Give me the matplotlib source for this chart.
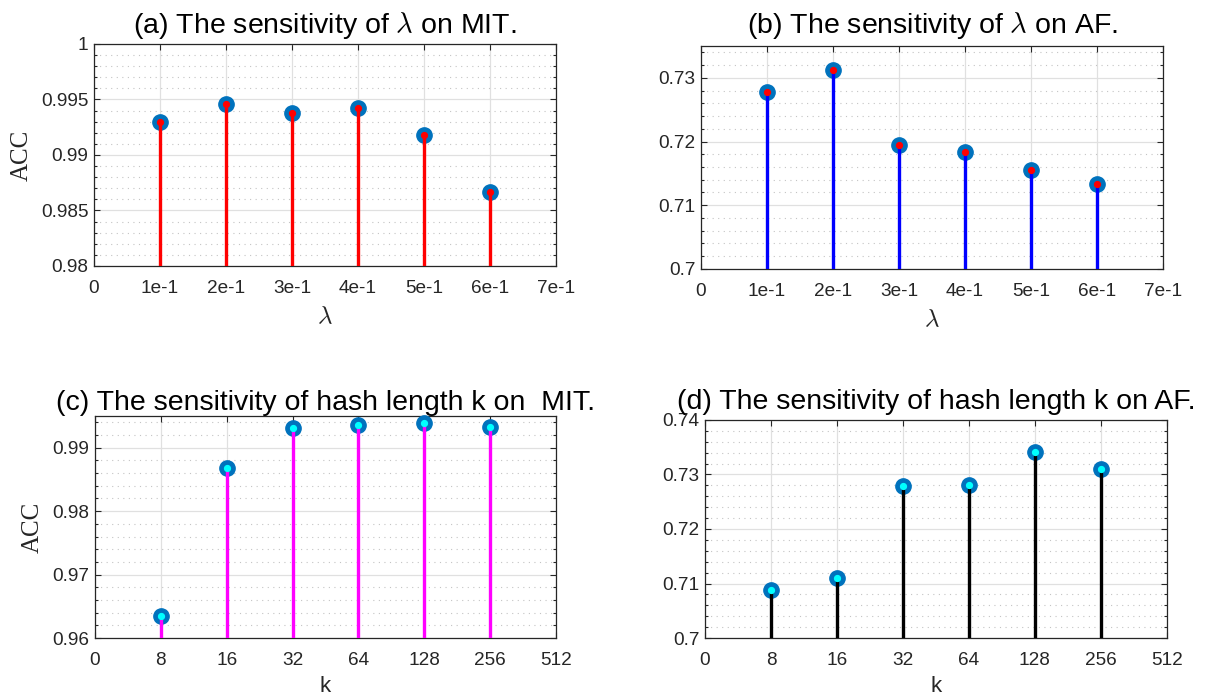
import numpy as np
import matplotlib
matplotlib.use("Agg")
import matplotlib.pyplot as plt
from matplotlib.ticker import MultipleLocator, FuncFormatter

plt.rcParams["font.family"] = ["Liberation Sans", "DejaVu Sans"]
plt.rcParams["mathtext.fontset"] = "cm"

# ---------------- data ----------------
lam_labels = ["0", "1e-1", "2e-1", "3e-1", "4e-1", "5e-1", "6e-1", "7e-1"]
k_labels = ["0", "8", "16", "32", "64", "128", "256", "512"]

acc_lam_mit = [0.9930, 0.9946, 0.9938, 0.9942, 0.9918, 0.9867]
acc_lam_af = [0.7278, 0.7312, 0.7194, 0.7184, 0.7155, 0.7134]
acc_k_mit = [0.9634, 0.9868, 0.9931, 0.9936, 0.9939, 0.9932]
acc_k_af = [0.7089, 0.7110, 0.7278, 0.7281, 0.7341, 0.7310]

MARKER_BLUE = "#0072BD"

fig = plt.figure(figsize=(12.10, 6.95), dpi=100)

panels = [
    # position, values, ylim, major, minor, stem colour, dot colour, title, xlabel, xticks, ylabel, title pad
    ([0.0777, 0.6173, 0.3818, 0.3194], acc_lam_mit, (0.98, 1.0), 0.005, 0.001, "#ff0000", "#ff0000",
     r"(a) The sensitivity of $\lambda$ on MIT.", r"$\lambda$", lam_labels, "ACC", 8),
    ([0.5793, 0.6130, 0.3818, 0.3209], acc_lam_af, (0.70, 0.735), 0.01, 0.002, "#0000ff", "#ff0000",
     r"(b) The sensitivity of $\lambda$ on AF.", r"$\lambda$", lam_labels, None, 9),
    ([0.0785, 0.0820, 0.3810, 0.3194], acc_k_mit, (0.96, 0.995), 0.01, 0.002, "#ff00ff", "#00ffff",
     "(c) The sensitivity of hash length k on  MIT.", "k", k_labels, "ACC", 3),
    ([0.5826, 0.0820, 0.3818, 0.3137], acc_k_af, (0.70, 0.74), 0.01, 0.002, "#000000", "#00ffff",
     "(d) The sensitivity of hash length k on AF.", "k", k_labels, None, 8),
]

for pos, vals, ylim, major, minor, stem_c, dot_c, title, xlabel, xlabels, ylabel, tpad in panels:
    ax = fig.add_axes(pos)
    x = np.arange(1, len(vals) + 1)
    base = ylim[0]

    # stems: big blue marker underneath, coloured stem and small dot on top
    ax.plot(x, vals, "o", color=MARKER_BLUE, markersize=11, zorder=3, clip_on=False)
    ax.vlines(x, base, vals, colors=stem_c, linewidth=2.4, zorder=4)
    ax.plot(x, vals, "o", color=dot_c, markersize=4.2, zorder=5)

    ax.set_xlim(0, len(xlabels) - 1)
    ax.set_xticks(np.arange(len(xlabels)))
    ax.set_xticklabels(xlabels)
    ax.set_ylim(*ylim)
    ax.yaxis.set_major_locator(MultipleLocator(major))
    ax.yaxis.set_minor_locator(MultipleLocator(minor))
    ax.yaxis.set_major_formatter(FuncFormatter(lambda v, p: f"{v:.3f}".rstrip("0").rstrip(".")))

    ax.grid(True, which="major", color="#e0e0e0", linewidth=0.9, zorder=0)
    ax.grid(True, which="minor", axis="y", color="#c4c4c4", linestyle=(0, (1, 4)), linewidth=0.8, zorder=0)
    ax.set_axisbelow(True)

    ax.tick_params(which="both", direction="in", top=True, right=True, colors="#262626",
                   labelsize=13.7, width=0.8)
    ax.tick_params(axis="x", pad=10)
    ax.tick_params(axis="y", pad=4)
    ax.tick_params(which="major", length=4)
    ax.tick_params(which="minor", length=2.5)
    for s in ax.spines.values():
        s.set_color("#262626")
        s.set_linewidth(0.9)

    ax.set_title(title, fontsize=20.5, pad=tpad)
    if xlabel == "k":
        ax.set_xlabel(xlabel, fontsize=16, color="#262626", labelpad=5)
    else:
        ax.set_xlabel(xlabel, fontsize=18, color="#262626", labelpad=5)
    if ylabel:
        ax.set_ylabel(ylabel, fontsize=18, family="Liberation Serif", color="#262626", labelpad=6)

fig.savefig("out.png", dpi=100)
